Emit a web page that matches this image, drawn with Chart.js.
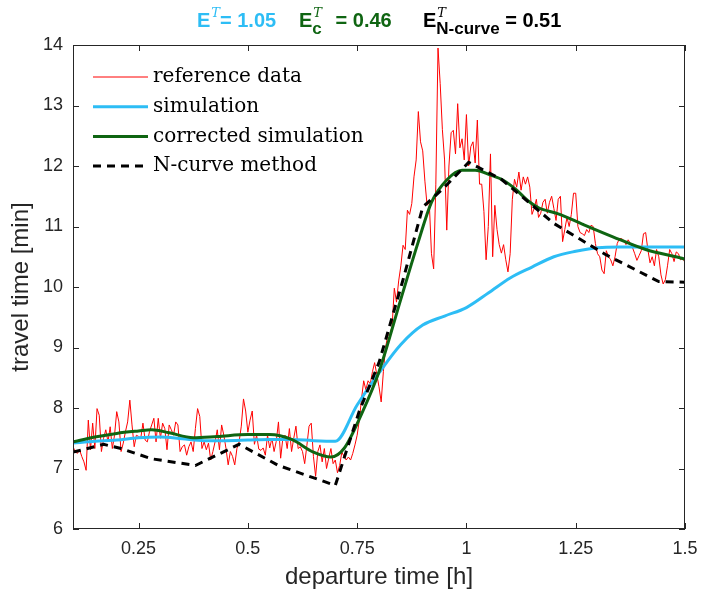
<!DOCTYPE html>
<html>
<head>
<meta charset="utf-8">
<script src="https://cdn.jsdelivr.net/npm/chart.js@4.4.0/dist/chart.umd.min.js"></script>
<style>
  html, body { margin: 0; padding: 0; background: #fff; }
</style>
</head>
<body>
<canvas id="grafico" width="702" height="593"></canvas>
<script>
  // dados (tempo de partida em h, tempo de viagem em min)
  const refInicio = 0.1;
  const refPasso = 0.005;
  const refViagem = [
    7.36, 7.28, 7.25, 7.31, 7.20, 7.11, 6.97, 7.80, 7.31, 7.75,
    7.33, 7.99, 7.88, 7.28, 7.50, 7.64, 7.44, 7.69, 7.33, 7.55,
    7.94, 7.77, 7.28, 7.42, 7.61, 7.77, 8.13, 7.72, 7.36, 7.55,
    7.53, 7.50, 7.75, 7.47, 7.44, 7.61, 7.72, 7.83, 7.44, 7.83,
    7.50, 7.75, 7.66, 7.31, 7.72, 7.64, 7.55, 7.77, 7.72, 7.28,
    7.36, 7.39, 7.22, 7.36, 7.44, 7.28, 7.66, 7.99, 7.86, 7.33,
    7.44, 7.31, 7.42, 7.14, 7.28, 7.44, 7.64, 7.31, 7.72, 7.55,
    7.33, 7.06, 7.28,
    7.20, 7.06, 7.33, 7.44, 7.70, 8.15, 7.95, 7.60, 7.80, 7.95,
    7.40, 7.55, 7.32, 7.30, 7.34, 7.22, 7.55, 7.34, 7.50, 7.28,
    7.45, 7.77, 7.17, 7.50, 7.55, 7.33, 7.66, 7.28, 7.50, 7.70,
    7.33, 7.36, 7.28, 7.08, 7.38, 7.70, 7.75, 7.20, 6.87, 7.28,
    7.39, 7.11, 7.33, 7.00, 7.17, 7.33, 7.08, 7.14, 6.93, 7.05,
    7.27,
    7.20, 7.14, 7.19, 7.14, 7.25, 7.39, 7.55, 7.80,
    8.15, 8.45, 8.30, 8.45, 8.40, 8.60, 8.75, 8.55, 8.35, 8.10,
    8.60, 9.00, 9.20, 9.22, 9.35, 9.98, 9.75, 10.10, 10.35, 10.69,
    10.62, 11.27, 11.20, 11.38, 11.82, 12.10, 12.90, 12.40, 12.25, 11.75,
    11.35, 11.40, 10.55, 10.30, 11.70, 13.95, 13.36, 12.60, 12.10, 10.94,
    12.00, 12.55, 12.59, 12.20, 13.03, 12.30, 12.45, 12.10, 12.85, 12.00,
    12.32, 12.40, 12.05, 12.76, 11.70, 11.70, 11.25, 10.45, 11.00, 12.20,
    10.50, 11.35, 10.95, 10.70, 10.56, 10.70, 10.45, 10.25, 10.55, 11.45,
    11.78, 11.65, 11.90, 11.60, 11.82, 11.70, 11.82, 11.65, 11.20, 11.30,
    11.45, 11.15, 11.22, 11.40, 11.45, 11.22, 11.40, 11.50, 11.30, 11.10,
    11.45, 11.50, 10.75, 10.95, 11.15, 11.00, 11.20, 11.55, 11.55, 11.00,
    10.90, 10.88,
    10.85, 10.95, 10.90, 11.02, 11.00, 10.72, 10.55, 10.50, 10.28, 10.22,
    10.60, 10.50, 10.45, 10.35, 10.50, 10.72, 10.80, 10.80, 10.77, 10.70,
    10.78, 10.72, 10.65, 10.55, 10.44, 10.52, 10.60, 10.88, 10.90, 10.62,
    10.40, 10.50, 10.35, 10.62, 10.50, 10.20, 10.05, 10.12, 10.35, 10.62,
    10.55, 10.42, 10.58, 10.55, 10.45, 10.48, 10.40
  ];

  const simTempo = [0.10, 0.15, 0.20, 0.25, 0.30, 0.35, 0.40, 0.45, 0.50, 0.55, 0.60, 0.65, 0.70,
    0.75, 0.80, 0.85, 0.90, 0.95, 1.00, 1.05, 1.10, 1.15, 1.20, 1.25, 1.30, 1.35, 1.40, 1.45, 1.50];
  const simViagem = [7.42, 7.45, 7.47, 7.51, 7.52, 7.49, 7.46, 7.46, 7.47, 7.48, 7.48, 7.46, 7.45,
    8.05, 8.58, 9.05, 9.37, 9.52, 9.66, 9.90, 10.15, 10.33, 10.50, 10.59, 10.65, 10.66, 10.66, 10.66, 10.66];

  const corrTempo = [0.10, 0.15, 0.20, 0.25, 0.28, 0.32, 0.375, 0.43, 0.50, 0.55, 0.60, 0.65, 0.69,
    0.72, 0.76, 0.80, 0.85, 0.89, 0.92, 0.955, 0.99, 1.02, 1.055, 1.085, 1.115, 1.14, 1.165,
    1.21, 1.265, 1.335, 1.41, 1.49, 1.50];
  const corrViagem = [7.44, 7.52, 7.58, 7.62, 7.64, 7.59, 7.51, 7.53, 7.56, 7.56, 7.48, 7.27, 7.19,
    7.33, 7.90, 8.60, 9.80, 10.75, 11.40, 11.77, 11.93, 11.93, 11.85, 11.76, 11.60, 11.43, 11.31,
    11.21, 11.04, 10.83, 10.62, 10.48, 10.46];

  const ncurvaTempo = [0.10, 0.17, 0.21, 0.28, 0.38, 0.48, 0.57, 0.70, 0.755, 0.80, 0.855, 0.90,
    0.95, 1.005, 1.08, 1.20, 1.32, 1.44, 1.50];
  const ncurvaViagem = [7.27, 7.40, 7.33, 7.16, 7.05, 7.40, 7.05, 6.72, 7.95, 8.75, 10.12, 11.32,
    11.65, 12.06, 11.78, 11.05, 10.53, 10.09, 10.08];

  const xTicks = [0.25, 0.5, 0.75, 1, 1.25, 1.5];
  const yTicks = [6, 7, 8, 9, 10, 11, 12, 13, 14];

  const nomes = ['reference data', 'simulation', 'corrected simulation', 'N-curve method'];
  const cores = ['#ff0000', '#2dbdf5', '#0f6512', '#000000'];

  function pontos(xs, ys) {
    return ys.map(function (v, i) { return { x: xs[i], y: v }; });
  }
  const refTempo = refViagem.map(function (v, i) { return +(refInicio + i * refPasso).toFixed(3); });

  // moldura com ticks para dentro (estilo matlab)
  const moldura = {
    id: 'moldura',
    afterDatasetsDraw(chart) {
      const { ctx, chartArea: a, scales: { x, y } } = chart;
      ctx.save();
      ctx.strokeStyle = '#262626';
      ctx.lineWidth = 1;
      ctx.strokeRect(a.left + 0.5, a.top + 0.5, a.right - a.left - 1, a.bottom - a.top - 1);
      ctx.beginPath();
      xTicks.forEach(function (v) {
        const px = Math.round(x.getPixelForValue(v)) + 0.5;
        ctx.moveTo(px, a.bottom); ctx.lineTo(px, a.bottom - 6);
        ctx.moveTo(px, a.top); ctx.lineTo(px, a.top + 6);
      });
      yTicks.forEach(function (v) {
        const py = Math.round(y.getPixelForValue(v)) + 0.5;
        ctx.moveTo(a.left, py); ctx.lineTo(a.left + 6, py);
        ctx.moveTo(a.right, py); ctx.lineTo(a.right - 6, py);
      });
      ctx.stroke();
      ctx.restore();
    }
  };

  // legenda dentro do grafico
  const legenda = {
    id: 'legenda',
    afterDraw(chart) {
      const ctx = chart.ctx;
      const larguras = [1, 3, 3, 3];
      ctx.save();
      nomes.forEach(function (n, i) {
        const ly = 77 + i * 29.7;
        ctx.beginPath();
        ctx.strokeStyle = cores[i];
        ctx.lineWidth = larguras[i];
        ctx.setLineDash(i === 3 ? [8, 6] : []);
        ctx.moveTo(93, ly); ctx.lineTo(148, ly);
        ctx.stroke();
        ctx.setLineDash([]);
        ctx.fillStyle = '#000';
        ctx.font = '20px "DejaVu Serif"';
        ctx.textBaseline = 'middle';
        ctx.fillText(n, 153, ly);
      });
      ctx.restore();
    }
  };

  // titulo com indices
  const titulo = {
    id: 'titulo',
    afterDraw(chart) {
      const ctx = chart.ctx;
      const grupos = [
        { x: 197, cor: '#2dbdf5', sub: '', resto: '= 1.05', folga: 0 },
        { x: 299, cor: '#0f6512', sub: 'c', resto: ' = 0.46', folga: 8 },
        { x: 423, cor: '#000000', sub: 'N-curve', resto: ' = 0.51', folga: 0 }
      ];
      const base = 27;
      ctx.save();
      ctx.textBaseline = 'alphabetic';
      grupos.forEach(function (g) {
        ctx.fillStyle = g.cor;
        let cx = g.x;
        ctx.font = 'bold 20px "Liberation Sans"';
        ctx.fillText('E', cx, base);
        cx += ctx.measureText('E').width;
        ctx.font = 'italic 13px "DejaVu Serif"';
        ctx.fillText('T', cx + 1, base - 10);
        let w = ctx.measureText('T').width + 1;
        if (g.sub) {
          ctx.font = 'bold 17px "Liberation Sans"';
          ctx.fillText(g.sub, cx, base + 7);
          w = Math.max(w, ctx.measureText(g.sub).width);
        }
        cx += w + g.folga;
        ctx.font = 'bold 20px "Liberation Sans"';
        ctx.fillText(g.resto, cx, base);
      });
      ctx.restore();
    }
  };

  const ctx = document.getElementById('grafico');

  new Chart(ctx, {
    type: 'line',
    data: {
      datasets: [
        { label: nomes[0], data: pontos(refTempo, refViagem), borderColor: cores[0], borderWidth: 1, pointRadius: 0, tension: 0, order: 4 },
        { label: nomes[1], data: pontos(simTempo, simViagem), borderColor: cores[1], borderWidth: 3, pointRadius: 0, cubicInterpolationMode: 'monotone', order: 3 },
        { label: nomes[2], data: pontos(corrTempo, corrViagem), borderColor: cores[2], borderWidth: 3, pointRadius: 0, cubicInterpolationMode: 'monotone', order: 2 },
        { label: nomes[3], data: pontos(ncurvaTempo, ncurvaViagem), borderColor: cores[3], borderWidth: 3, borderDash: [8, 6], pointRadius: 0, tension: 0, order: 1 }
      ]
    },
    options: {
      responsive: false,
      animation: false,
      layout: { padding: { top: 45, right: 17, left: 0, bottom: 0 } },
      plugins: { legend: { display: false }, tooltip: { enabled: false } },
      scales: {
        x: {
          type: 'linear',
          min: 0.1,
          max: 1.5,
          afterBuildTicks: function (s) { s.ticks = xTicks.map(function (v) { return { value: v }; }); },
          afterFit: function (s) { s.height = 64; s.paddingLeft = 0; s.paddingRight = 0; },
          grid: { display: false, drawTicks: false },
          border: { display: false },
          ticks: { color: '#262626', padding: 9, maxRotation: 0, font: { family: 'Liberation Sans', size: 18 },
            callback: function (v) { return String(v); } },
          title: { display: true, text: 'departure time [h]', color: '#262626', padding: { bottom: 1, top: 0 },
            font: { family: 'Liberation Sans', size: 24 } }
        },
        y: {
          min: 6,
          max: 14,
          afterBuildTicks: function (s) { s.ticks = yTicks.map(function (v) { return { value: v }; }); },
          afterFit: function (s) { s.width = 73; },
          grid: { display: false, drawTicks: false },
          border: { display: false },
          ticks: { color: '#262626', padding: 10, font: { family: 'Liberation Sans', size: 18 } },
          title: { display: true, text: 'travel time [min]', color: '#262626', padding: { top: 7, bottom: 0 },
            font: { family: 'Liberation Sans', size: 24 } }
        }
      }
    },
    plugins: [moldura, legenda, titulo]
  });
</script>
</body>
</html>
